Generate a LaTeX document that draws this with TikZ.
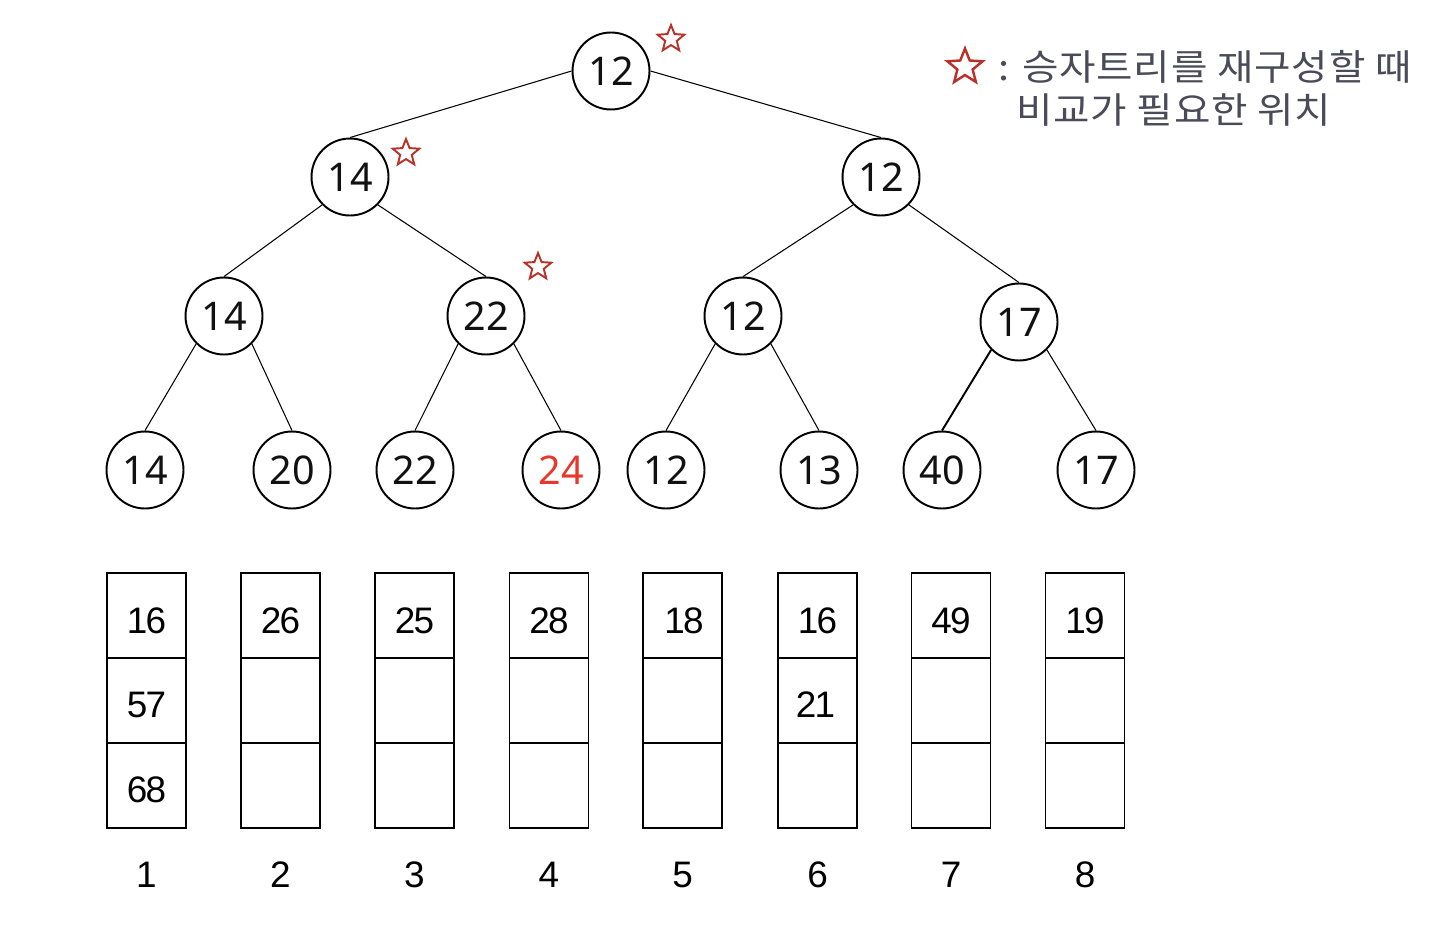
\documentclass[tikz,border=0pt]{standalone}
\usepackage{fontspec}
\setmainfont{Noto Sans}
\newfontfamily\boxfont[LetterSpace=-5]{Liberation Sans}
\newfontfamily\kofont[LetterSpace=2]{Noto Sans CJK KR}
\usetikzlibrary{shapes.geometric}
\definecolor{starred}{HTML}{B8322A}
\definecolor{hotred}{HTML}{E8382C}
\definecolor{legendgray}{HTML}{4A4A58}
\definecolor{inkblack}{HTML}{111111}
\tikzset{
  tnode/.style={circle, draw, line width=1.1pt, minimum size=1.54cm, inner sep=0pt, text=inkblack, font=\fontsize{22.5}{24}\selectfont},
  edge/.style={line width=0.6pt},
  starmark/.style={star, star points=5, star point ratio=2.3, draw=starred, line width=1.1pt, minimum size=0.56cm, inner sep=0pt},
  cell/.style={rectangle, draw, line width=1.1pt, minimum width=1.58cm, minimum height=1.7cm, inner sep=0pt},
  celltext/.style={font=\boxfont\fontsize{21}{23}\selectfont, inner sep=0pt},
  idx/.style={font=\boxfont\fontsize{21}{23}\selectfont, inner sep=0pt},
  legend/.style={font=\kofont\fontsize{20.5}{22}\selectfont, text=legendgray, inner sep=0pt, anchor=west}
}
\begin{document}
\begin{tikzpicture}[x=0.02cm, y=-0.02cm]
\useasboundingbox (0,0) rectangle (1456,946);
% tree nodes
\node[tnode] (r) at (611,71) {12};
\node[tnode] (a) at (350,177) {14};
\node[tnode] (b) at (881,177) {12};
\node[tnode] (aa) at (224,316) {14};
\node[tnode] (ab) at (486,316) {22};
\node[tnode] (ba) at (743,316) {12};
\node[tnode] (bb) at (1019,322) {17};
\node[tnode] (l1) at (145,470) {14};
\node[tnode] (l2) at (292,470) {20};
\node[tnode] (l3) at (415,470) {22};
\node[tnode, text=hotred] (l4) at (561,470) {24};
\node[tnode] (l5) at (666,470) {12};
\node[tnode] (l6) at (819,470) {13};
\node[tnode] (l7) at (942,470) {40};
\node[tnode] (l8) at (1096,470) {17};
% edges
\draw[edge] (r.west) -- (a.north);
\draw[edge] (r.east) -- (b.north);
\draw[edge] (a.south west) -- (aa.north);
\draw[edge] (a.south east) -- (ab.north);
\draw[edge] (b.south west) -- (ba.north);
\draw[edge] (b.south east) -- (bb.north);
\draw[edge] (aa.south west) -- (l1.north);
\draw[edge] (aa.south east) -- (l2.north);
\draw[edge] (ab.south west) -- (l3.north);
\draw[edge] (ab.south east) -- (l4.north);
\draw[edge] (ba.south west) -- (l5.north);
\draw[edge] (ba.south east) -- (l6.north);
\draw[edge, line width=1.1pt] (bb.south west) -- (l7.north);
\draw[edge] (bb.south east) -- (l8.north);
% stars
\node[starmark] (s1) at (671,39) {};
\node[starmark] (s2) at (406,153) {};
\node[starmark] (s3) at (538,267) {};
% legend
\node[starmark, minimum size=0.74cm, line width=1.4pt] (s4) at (965,67) {};
\node[legend] (lg1) at (998,67) {\scalebox{1.1}[1]{: 승자트리를 재구성할 때}};
\node[legend] (lg2) at (1016,110) {\scalebox{1.1}[1]{비교가 필요한 위치}};
% run boxes
\foreach \i/\x in {1/146.5,2/280.5,3/414.5,4/549,5/682.5,6/817.5,7/951,8/1085}{
  \node[cell] (c\i a) at (\x,615.5) {};
  \node[cell] (c\i b) at (\x,700.5) {};
  \node[cell] (c\i c) at (\x,785.5) {};
  \node[idx] (n\i) at (\x,875) {\i};
}
\node[celltext] (t1a) at (146.5,621) {16};
\node[celltext] (t1b) at (146.5,705) {57};
\node[celltext] (t1c) at (146.5,790) {68};
\node[celltext] (t2a) at (280.5,621) {26};
\node[celltext] (t3a) at (414.5,621) {25};
\node[celltext] (t4a) at (549,621) {28};
\node[celltext] (t5a) at (684,621) {18};
\node[celltext] (t6a) at (817.5,621) {16};
\node[celltext] (t6b) at (815.5,705) {21};
\node[celltext] (t7a) at (951,621) {49};
\node[celltext] (t8a) at (1085,621) {19};
\end{tikzpicture}
\end{document}
